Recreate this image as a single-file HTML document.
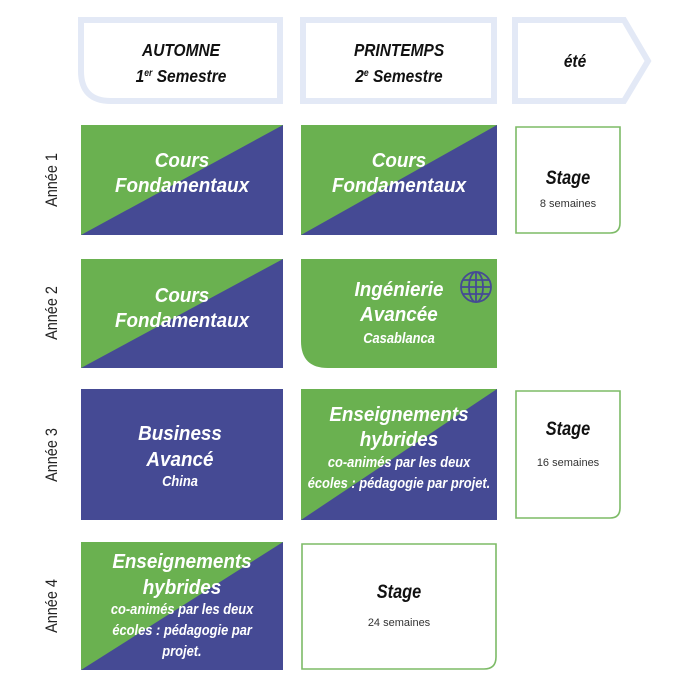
<!DOCTYPE html>
<html><head><meta charset="utf-8"><style>
html,body{margin:0;padding:0;background:#fff}
svg{display:block}
.h{font-family:"Liberation Sans",sans-serif;font-weight:bold;font-style:italic;fill:#111;text-anchor:middle}
.w{font-family:"Liberation Sans",sans-serif;font-weight:bold;font-style:italic;fill:#fff;text-anchor:middle}
.n{transform-box:fill-box;transform-origin:center;transform:scaleX(.86)}
.m{transform-box:fill-box;transform-origin:center;transform:scaleX(.92)}
.s{font-family:"Liberation Sans",sans-serif;fill:#333;text-anchor:middle;font-size:11px}
.y{font-family:"Liberation Sans",sans-serif;fill:#222;font-size:17px;text-anchor:middle}
</style></head><body>
<svg width="673" height="682" viewBox="0 0 673 682" xmlns="http://www.w3.org/2000/svg">
<path d="M81 20 H280 V101 H111 Q81 101 81 71 Z" fill="#fff" stroke="#e3e9f6" stroke-width="6"/>
<rect x="303" y="20" width="191" height="81" fill="#fff" stroke="#e3e9f6" stroke-width="6"/>
<path d="M515 20 H624 L648 61 L624 101 H515 Z" fill="#fff" stroke="#e3e9f6" stroke-width="6"/>
<text class="h n" x="181" y="56" font-size="18">AUTOMNE</text>
<text class="h n" x="181" y="82" font-size="18">1<tspan font-size="10" dy="-6">er</tspan><tspan dy="6"> Semestre</tspan></text>
<text class="h n" x="399" y="56" font-size="18">PRINTEMPS</text>
<text class="h n" x="399" y="82" font-size="18">2<tspan font-size="10" dy="-6">e</tspan><tspan dy="6"> Semestre</tspan></text>
<text class="h n" x="575" y="67" font-size="18">été</text>

<g class="y">
<text transform="translate(57,180) rotate(-90) scale(.85,1)">Année 1</text>
<text transform="translate(57,313) rotate(-90) scale(.85,1)">Année 2</text>
<text transform="translate(57,455) rotate(-90) scale(.85,1)">Année 3</text>
<text transform="translate(57,606) rotate(-90) scale(.85,1)">Année 4</text>
</g>

<rect x="81" y="125" width="202" height="110" fill="#454a94"/>
<polygon points="81,125 283,125 81,235" fill="#6ab150"/>
<text class="w m" x="182" y="167" font-size="20.5">Cours</text>
<text class="w m" x="182" y="192" font-size="20.5">Fondamentaux</text>
<rect x="301" y="125" width="196" height="110" fill="#454a94"/>
<polygon points="301,125 497,125 301,235" fill="#6ab150"/>
<text class="w m" x="399" y="167" font-size="20.5">Cours</text>
<text class="w m" x="399" y="192" font-size="20.5">Fondamentaux</text>
<path d="M516 127 H620 V223 Q620 233 610 233 H516 Z" fill="#fff" stroke="#7dbb67" stroke-width="1.6"/>
<text class="h n" x="568" y="184" font-size="19">Stage</text>
<text class="s" x="568" y="207">8 semaines</text>

<rect x="81" y="259" width="202" height="109" fill="#454a94"/>
<polygon points="81,259 283,259 81,368" fill="#6ab150"/>
<text class="w m" x="182" y="302" font-size="20.5">Cours</text>
<text class="w m" x="182" y="327" font-size="20.5">Fondamentaux</text>
<path d="M301 259 H497 V368 H328 Q301 368 301 341 Z" fill="#6ab150"/>
<text class="w m" x="399" y="296" font-size="20.5">Ingénierie</text>
<text class="w m" x="399" y="321" font-size="20.5">Avancée</text>
<text class="w n" x="399" y="343" font-size="15" font-weight="normal">Casablanca</text>
<g stroke="#454a94" stroke-width="1.8" fill="none">
<circle cx="476" cy="287" r="15"/>
<ellipse cx="476" cy="287" rx="7" ry="15"/>
<line x1="476" y1="272" x2="476" y2="302"/>
<line x1="461" y1="287" x2="491" y2="287"/>
<line x1="463" y1="280" x2="489" y2="280"/>
<line x1="463" y1="294" x2="489" y2="294"/>
</g>

<rect x="81" y="389" width="202" height="131" fill="#454a94"/>
<text class="w m" x="180" y="440" font-size="20.5">Business</text>
<text class="w m" x="180" y="466" font-size="20.5">Avancé</text>
<text class="w n" x="180" y="486" font-size="15" font-weight="normal">China</text>
<rect x="301" y="389" width="196" height="131" fill="#454a94"/>
<polygon points="301,389 497,389 301,520" fill="#6ab150"/>
<text class="w m" x="399" y="421" font-size="20.5">Enseignements</text>
<text class="w m" x="399" y="446" font-size="20.5">hybrides</text>
<text class="w n" x="399" y="467" font-size="15" font-weight="normal">co-animés par les deux</text>
<text class="w n" x="399" y="488" font-size="15" font-weight="normal">écoles : pédagogie par projet.</text>
<path d="M516 391 H620 V508 Q620 518 610 518 H516 Z" fill="#fff" stroke="#7dbb67" stroke-width="1.6"/>
<text class="h n" x="568" y="435" font-size="19">Stage</text>
<text class="s" x="568" y="466">16 semaines</text>

<rect x="81" y="542" width="202" height="128" fill="#454a94"/>
<polygon points="81,542 283,542 81,670" fill="#6ab150"/>
<text class="w m" x="182" y="568" font-size="20.5">Enseignements</text>
<text class="w m" x="182" y="594" font-size="20.5">hybrides</text>
<text class="w n" x="182" y="614" font-size="15" font-weight="normal">co-animés par les deux</text>
<text class="w n" x="182" y="635" font-size="15" font-weight="normal">écoles : pédagogie par</text>
<text class="w n" x="182" y="656" font-size="15" font-weight="normal">projet.</text>
<path d="M302 544 H496 V657 Q496 669 484 669 H302 Z" fill="#fff" stroke="#7dbb67" stroke-width="1.6"/>
<text class="h n" x="399" y="598" font-size="19">Stage</text>
<text class="s" x="399" y="626">24 semaines</text>
</svg>
</body></html>
